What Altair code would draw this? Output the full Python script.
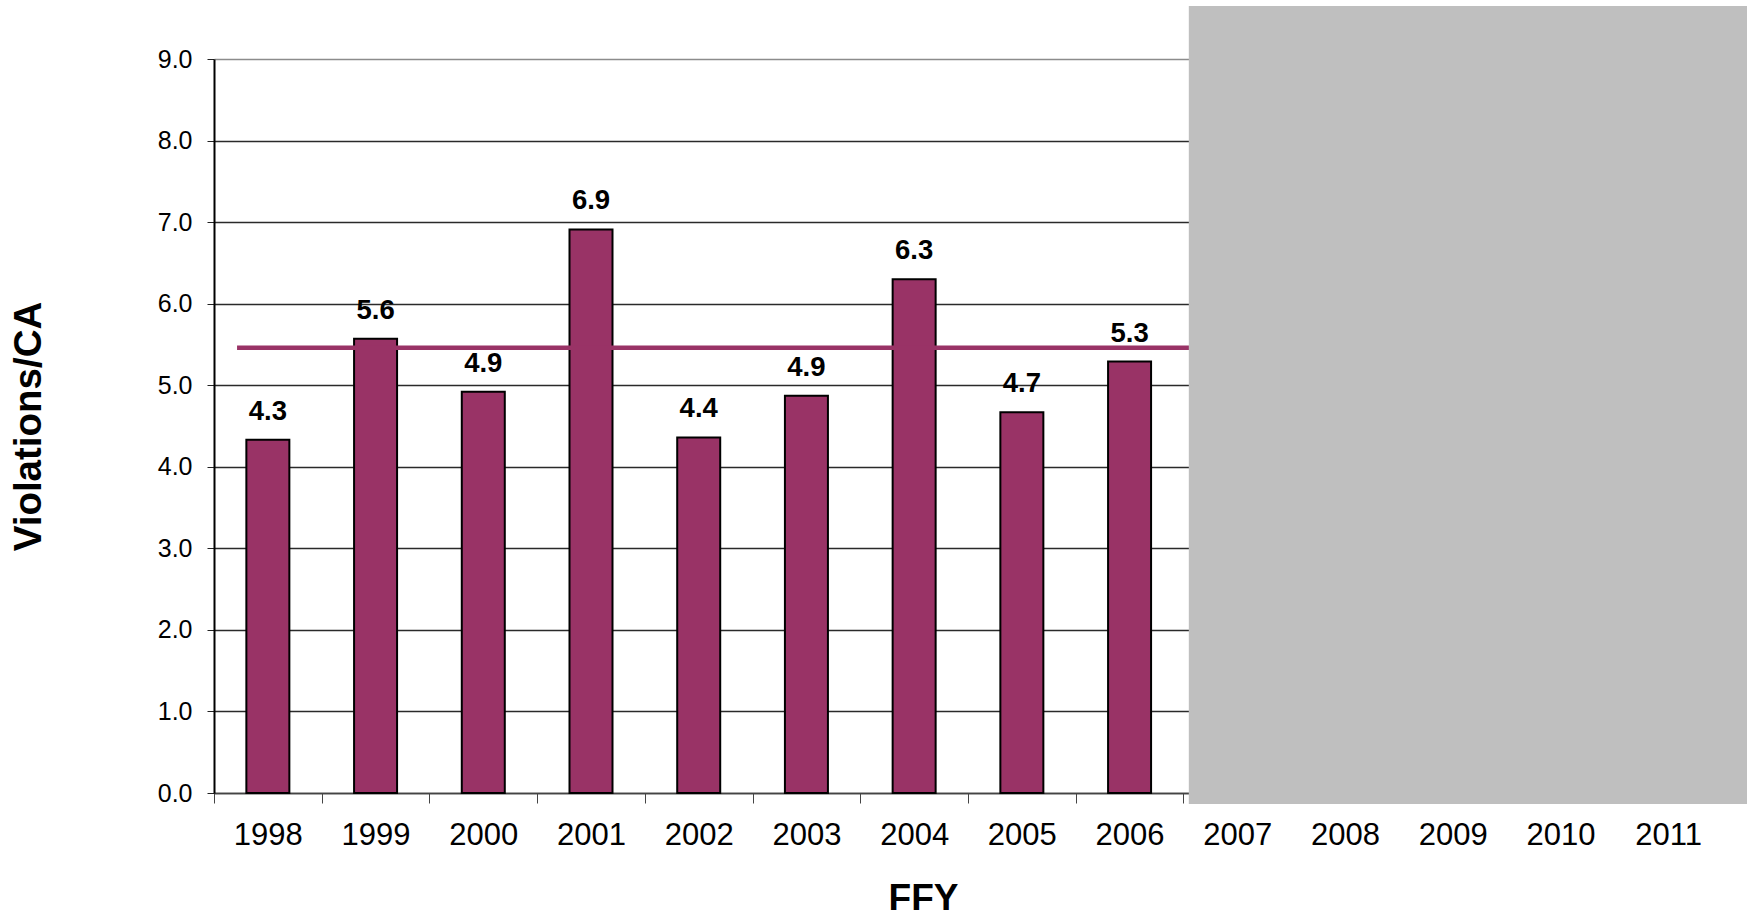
import altair as alt
import pandas as pd

# Federal fiscal years on the category axis; only 1998-2006 have reported rates
years = [str(y) for y in range(1998, 2012)]
reported_years = years[:9]
rates = [4.33, 5.57, 4.92, 6.91, 4.36, 4.87, 6.30, 4.67, 5.29]
goal_rate = 5.46
future_years = years[9:]

FONT = "Liberation Sans"
BAR_COLOR = "#993366"
PLOT_W = 1508
PLOT_H = 734

bars_df = pd.DataFrame({"FFY": reported_years, "rate": rates})
goal_df = pd.DataFrame({"FFY": [reported_years[0]], "goal": [goal_rate]})
mask_df = pd.DataFrame({"FFY": [future_years[0]]})

x_scale = alt.Scale(domain=years, paddingInner=0, paddingOuter=0)

x_axis = alt.Axis(
    title="FFY",
    labelAngle=0,
    labelFont=FONT,
    labelFontSize=31,
    labelColor="black",
    labelPadding=17,
    tickBand="extent",
    tickSize=10,
    tickColor="#444444",
    domainColor="#444444",
    domainWidth=1.5,
    grid=False,
    titleFont=FONT,
    titleFontSize=37,
    titleFontWeight="bold",
    titleColor="black",
    titleX=709,
    titleY=116,
    titleBaseline="alphabetic",
)

y_axis = alt.Axis(
    title="Violations/CA",
    values=list(range(10)),
    format=".1f",
    labelFont=FONT,
    labelFontSize=25,
    labelColor="black",
    labelPadding=15,
    tickSize=7,
    tickColor="#222222",
    domainColor="black",
    domainWidth=2,
    grid=True,
    gridColor={"condition": {"test": "datum.value === 9", "value": "#8c8c8c"}, "value": "#2a2a2a"},
    gridWidth=1.3,
    titleFont=FONT,
    titleFontSize=38.5,
    titleFontWeight="bold",
    titleColor="black",
    titleAngle=270,
    titleX=-186,
    titleY=PLOT_H / 2,
    titleAlign="center",
    titleBaseline="middle",
)

bars = alt.Chart(bars_df).mark_bar(
    size=43, color=BAR_COLOR, stroke="black", strokeWidth=2
).encode(
    x=alt.X("FFY:N", scale=x_scale, axis=x_axis),
    y=alt.Y("rate:Q", scale=alt.Scale(domain=[0, 9], nice=False), axis=y_axis),
)

labels = alt.Chart(bars_df).mark_text(
    font=FONT, fontSize=27.5, fontWeight="bold", color="black",
    baseline="alphabetic", dy=-20,
).encode(
    x=alt.X("FFY:N"),
    y=alt.Y("rate:Q"),
    text=alt.Text("rate:Q", format=".1f"),
)

goal = alt.Chart(goal_df).mark_rule(color=BAR_COLOR, strokeWidth=4.5).encode(
    x=alt.X("FFY:N", bandPosition=0.214),
    x2=alt.value(PLOT_W),
    y=alt.Y("goal:Q"),
)

# grey panel over the years without data yet
mask = alt.Chart(mask_df).mark_rect(color="#BFBFBF").encode(
    x=alt.X("FFY:N", bandPosition=0.05),
    x2=alt.value(PLOT_W + 25),
    y=alt.value(-53),
    y2=alt.value(PLOT_H + 11),
)

chart = alt.layer(bars, labels, goal, mask).properties(
    width=PLOT_W,
    height=PLOT_H,
    padding={"left": 214, "top": 59, "right": 30, "bottom": 124},
    autosize=alt.AutoSizeParams(type="none"),
    background="white",
).configure_view(stroke=None)

chart.save("out.html", embed_options={"renderer": "svg", "actions": False})
